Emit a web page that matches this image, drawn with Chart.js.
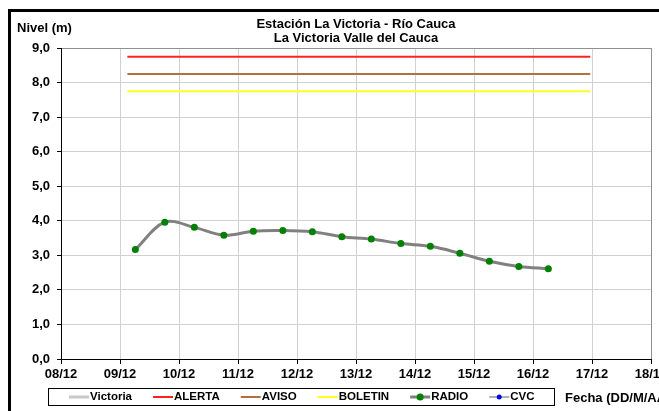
<!DOCTYPE html>
<html>
<head>
<meta charset="utf-8">
<script src="https://cdn.jsdelivr.net/npm/chart.js@4.4.0/dist/chart.umd.min.js"></script>
<style>
html, body { margin: 0; padding: 0; background: #fff; }
#wrap { position: relative; width: 659px; height: 411px; overflow: hidden; }
#frame { position: absolute; left: 8px; top: 9px; right: 0; bottom: 0; border-top: 3px solid #000; border-left: 3px solid #000; pointer-events: none; }
canvas { position: absolute; left: 0; top: 0; }
</style>
</head>
<body>
<div id="wrap">
    <canvas id="chart" width="659" height="411"></canvas>
    <div id="frame"></div>
</div>
<script>
// Chart data
const titleLines = ['Estación La Victoria - Río Cauca', 'La Victoria Valle del Cauca'];
const yTitle = 'Nivel (m)';
const xTitle = 'Fecha (DD/M/AA)';
const xLabels = ['08/12', '09/12', '10/12', '11/12', '12/12', '13/12', '14/12', '15/12', '16/12', '17/12', '18/12'];

// days counted from 08/12 00:00
const radioDays = [1.26, 1.76, 2.26, 2.76, 3.26, 3.76, 4.26, 4.76, 5.26, 5.76, 6.26, 6.76, 7.26, 7.76, 8.26];
const radioLevels = [3.17, 3.96, 3.81, 3.58, 3.70, 3.72, 3.68, 3.54, 3.47, 3.34, 3.26, 3.06, 2.83, 2.68, 2.61];

const thresholdDays = [1.125, 8.97];
const alertaLevel = 8.75;
const avisoLevel = 8.25;
const boletinLevel = 7.75;

const FONT = "'Liberation Sans', Arial, sans-serif";

function flatLine(level) {
    return thresholdDays.map(d => ({ x: d, y: level }));
}

// Title, axis titles and boxed legend drawn onto the canvas
const extras = {
    id: 'extras',
    afterDraw(chart) {
        const ctx = chart.ctx;
        const area = chart.chartArea;
        ctx.save();
        ctx.fillStyle = '#000';
        ctx.textBaseline = 'middle';
        ctx.font = 'bold 13px ' + FONT;
        ctx.textAlign = 'center';
        const cx = (area.left + area.right) / 2;
        ctx.fillText(titleLines[0], cx, 24);
        ctx.fillText(titleLines[1], cx, 38);
        ctx.textAlign = 'left';
        ctx.fillText(yTitle, 17, 28);
        ctx.fillText(xTitle, 565, 398);

        // legend box
        ctx.strokeStyle = '#000';
        ctx.lineWidth = 1;
        ctx.strokeRect(48.5, 388.5, 506, 17);

        ctx.font = 'bold 11.5px ' + FONT;
        let x = 69;
        const y = 397;
        chart.data.datasets.forEach(ds => {
            ctx.strokeStyle = ds.borderColor;
            ctx.lineWidth = Math.min(ds.borderWidth, 3);
            ctx.beginPath();
            ctx.moveTo(x, y);
            ctx.lineTo(x + 20, y);
            ctx.stroke();
            if (ds.pointRadius > 0) {
                ctx.fillStyle = ds.pointBackgroundColor;
                ctx.beginPath();
                ctx.arc(x + 10, y, ds.pointRadius, 0, Math.PI * 2);
                ctx.fill();
            }
            ctx.fillStyle = '#000';
            ctx.fillText(ds.label, x + 21, y);
            x += 21 + ctx.measureText(ds.label).width + 21;
        });
        ctx.restore();
    }
};

const ctx = document.getElementById('chart').getContext('2d');
const levelChart = new Chart(ctx, {
    type: 'line',
    data: {
        datasets: [
            { label: 'Victoria', data: [], borderColor: '#c8c8c8', borderWidth: 3, pointRadius: 0 },
            { label: 'ALERTA', data: flatLine(alertaLevel), borderColor: '#ff2020', borderWidth: 2, pointRadius: 0 },
            { label: 'AVISO', data: flatLine(avisoLevel), borderColor: '#b07040', borderWidth: 2, pointRadius: 0 },
            { label: 'BOLETIN', data: flatLine(boletinLevel), borderColor: '#ffff20', borderWidth: 2, pointRadius: 0 },
            {
                label: 'RADIO',
                data: radioDays.map((d, i) => ({ x: d, y: radioLevels[i] })),
                borderColor: '#808080',
                borderWidth: 3,
                tension: 0.35,
                pointRadius: 3.5,
                pointBackgroundColor: '#008000',
                pointBorderColor: '#008000',
                pointBorderWidth: 0
            },
            { label: 'CVC', data: [], borderColor: '#b0b0b0', borderWidth: 2, pointRadius: 2.5, pointBackgroundColor: '#0000ff' }
        ]
    },
    options: {
        responsive: false,
        animation: false,
        layout: { padding: { left: 0, right: 8, top: 48, bottom: 0 } },
        plugins: {
            legend: { display: false },
            title: { display: false },
            tooltip: { enabled: false }
        },
        scales: {
            x: {
                type: 'linear',
                min: 0,
                max: 10,
                afterFit(scale) {
                    scale.height = 52;
                    scale.paddingLeft = 0;
                    scale.paddingRight = 0;
                },
                ticks: {
                    stepSize: 1,
                    autoSkip: false,
                    maxRotation: 0,
                    padding: 3,
                    color: '#000',
                    font: { family: FONT, size: 13, weight: 'bold' },
                    callback: v => xLabels[v]
                },
                grid: {
                    color: c => (c.tick && c.tick.value === 10 ? '#909090' : '#d0d0d0'),
                    lineWidth: 1,
                    tickLength: 5,
                    tickColor: '#000'
                },
                border: { color: '#000', width: 1 }
            },
            y: {
                min: 0,
                max: 9,
                afterFit(scale) {
                    scale.width = 61;
                    scale.paddingTop = 0;
                    scale.paddingBottom = 0;
                },
                ticks: {
                    stepSize: 1,
                    padding: 7,
                    color: '#000',
                    font: { family: FONT, size: 13, weight: 'bold' },
                    callback: v => v.toFixed(1).replace('.', ',')
                },
                grid: {
                    color: c => (c.tick && c.tick.value === 9 ? '#909090' : '#d0d0d0'),
                    lineWidth: 1,
                    tickLength: 4,
                    tickColor: '#000'
                },
                border: { color: '#000', width: 1 }
            }
        }
    },
    plugins: [extras]
});
</script>
</body>
</html>
